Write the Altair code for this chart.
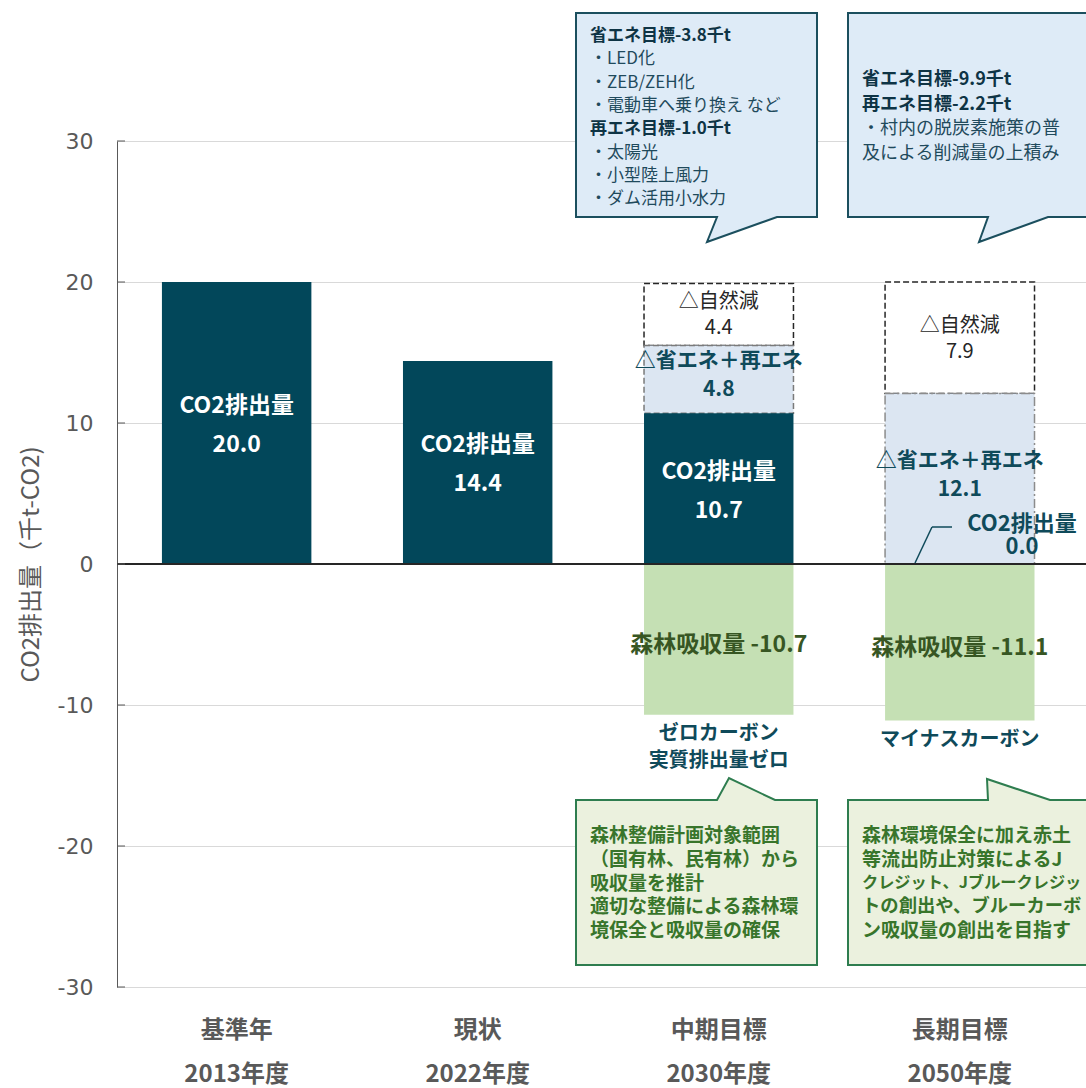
import altair as alt
import pandas as pd

# ---------------- data ----------------
categories = ["基準年|2013年度", "現状|2022年度", "中期目標|2030年度", "長期目標|2050年度"]
co2 = [20.0, 14.4, 10.7, 0.0]
saving = [None, None, 4.8, 12.1]
natural = [None, None, 4.4, 7.9]
forest = [None, None, -10.7, -11.1]
status = [None, None, "ゼロカーボン\n実質排出量ゼロ", "マイナスカーボン"]
y_ticks = [-30, -20, -10, 0, 10, 20, 30]

# callout texts: (text, bold)
note_mid = [("省エネ目標-3.8千t", True), ("・LED化", False), ("・ZEB/ZEH化", False),
            ("・電動車へ乗り換え など", False), ("再エネ目標-1.0千t", True), ("・太陽光", False),
            ("・小型陸上風力", False), ("・ダム活用小水力", False)]
note_long = [("省エネ目標-9.9千t", True), ("再エネ目標-2.2千t", True),
             ("・村内の脱炭素施策の普", False), ("及による削減量の上積み", False)]
forest_note_mid = ["森林整備計画対象範囲", "（国有林、民有林）から", "吸収量を推計",
                   "適切な整備による森林環", "境保全と吸収量の確保"]
forest_note_long = ["森林環境保全に加え赤土", "等流出防止対策によるJ",
                    "クレジット、Jブルークレジッ", "トの創出や、ブルーカーボ",
                    "ン吸収量の創出を目指す"]

# ---------------- tables ----------------
r_co2, r_sav, r_nat, r_for, r_st = [], [], [], [], []
for c, v, s, n, f, st in zip(categories, co2, saving, natural, forest, status):
    if v > 0:
        r_co2.append(dict(cat=c, lo=0.0, hi=v, mid=v / 2, label=f"CO2排出量\n{v:.1f}"))
    if s is not None:
        r_sav.append(dict(cat=c, lo=v, hi=v + s, mid=v + s / 2, label=f"△省エネ＋再エネ\n{s:.1f}"))
        if n is not None:
            r_nat.append(dict(cat=c, lo=v + s, hi=v + s + n, mid=v + s + n / 2,
                              label=f"△自然減\n{n:.1f}"))
    if f is not None:
        r_for.append(dict(cat=c, lo=0.0, hi=f, mid=f / 2, label=f"森林吸収量 {f:.1f}"))
    if st:
        r_st.append(dict(cat=c, y=f, label=st))

df_co2, df_sav, df_nat = pd.DataFrame(r_co2), pd.DataFrame(r_sav), pd.DataFrame(r_nat)
df_for, df_st = pd.DataFrame(r_for), pd.DataFrame(r_st)

# ---------------- layout ----------------
FONT = "Noto Sans CJK JP"
LEFT, TOP, W, H = 117, 141, 969, 846
TEAL = "#02475a"
TXT_TEAL = "#0f4a5a"
GREEN_TXT = "#38752b"


def P(x, y):
    return x - LEFT, y - TOP


x_scale = alt.Scale(domain=categories, paddingInner=0.38, paddingOuter=0.2, align=0.466)
x_axis = alt.Axis(title=None, labelExpr="split(datum.label, '|')", labelFont=FONT,
                  labelFontSize=24, labelFontWeight="bold", labelColor="#595959",
                  labelLineHeight=44, labelPadding=31, labelAngle=0, ticks=False,
                  domain=False, grid=False, labelLimit=400)
y_scale = alt.Scale(domain=[-30, 30], nice=False, zero=False)
y_axis = alt.Axis(values=y_ticks, title="CO2排出量（千t-CO2)", labelExpr="'' + datum.value",
                  labelFont="DejaVu Sans", labelFontSize=22, labelColor="#595959",
                  labelPadding=24, ticks=False, domainColor="#595959", domainWidth=1,
                  grid=True, gridColor="#d9d9d9", gridWidth=1,
                  titleFont=FONT, titleFontSize=24, titleFontWeight="normal",
                  titleColor="#595959", titlePadding=14)


def X():
    return alt.X("cat:N", scale=x_scale, axis=x_axis, sort=categories)


def Y(f):
    return alt.Y(f"{f}:Q", scale=y_scale, axis=y_axis)


one = pd.DataFrame({"k": [0]})

nat_bar = alt.Chart(df_nat).mark_bar(fill="white", stroke="#262626", strokeDash=[6, 3],
                                     strokeWidth=1.5).encode(x=X(), y=Y("lo"), y2="hi")
sav_bar = alt.Chart(df_sav).mark_bar(fill="#dce6f2", strokeWidth=1.5).encode(
    x=X(), y=Y("lo"), y2="hi",
    stroke=alt.Stroke("cat:N", scale=alt.Scale(domain=categories[2:], range=["#7a7a7a", "#8c8c8c"]),
                      legend=None),
    strokeDash=alt.StrokeDash("cat:N", scale=alt.Scale(domain=categories[2:],
                                                       range=[[6, 3], [9, 3, 2, 3]]), legend=None))
co2_bar = alt.Chart(df_co2).mark_bar(color=TEAL).encode(x=X(), y=Y("lo"), y2="hi")
for_bar = alt.Chart(df_for).mark_bar(color="#c5e0b4").encode(x=X(), y=Y("lo"), y2="hi")

zero = alt.Chart(pd.DataFrame({"v": [0]})).mark_rule(color="#262626", strokeWidth=2).encode(y=Y("v"))
ticks = alt.Chart(pd.DataFrame({"t": y_ticks})).mark_rule(color="#595959").encode(
    y=Y("t"), x=alt.value(0), x2=alt.value(8))

co2_txt = alt.Chart(df_co2).mark_text(font=FONT, fontSize=23, fontWeight="bold", color="white",
                                      lineBreak="\n", lineHeight=39, baseline="middle", dy=-17).encode(
    x=X(), y=Y("mid"), text="label:N")
sav_txt = alt.Chart(df_sav).mark_text(font=FONT, fontSize=21, fontWeight="bold", color=TXT_TEAL,
                                      lineBreak="\n", lineHeight=29, baseline="middle", dy=-18).encode(
    x=X(), y=Y("mid"), text="label:N")
nat_txt = alt.Chart(df_nat).mark_text(font=FONT, fontSize=20, color="#262626",
                                      lineBreak="\n", lineHeight=26, baseline="middle", dy=-12).encode(
    x=X(), y=Y("mid"), text="label:N")
for_txt = alt.Chart(df_for).mark_text(font=FONT, fontSize=23, fontWeight="bold", color="#375623",
                                      baseline="middle", dy=6).encode(
    x=X(), y=Y("mid"), text="label:N")
st_txt = alt.Chart(df_st).mark_text(font=FONT, fontSize=20, fontWeight="bold", color=TXT_TEAL,
                                    lineBreak="\n", lineHeight=27, baseline="top", dy=9).encode(
    x=X(), y=Y("y"), text="label:N")

# CO2 = 0.0 label with leader line (long-term target)
zx, zy = P(1022, 514)
zero_lbl = alt.Chart(pd.DataFrame({"label": [f"CO2排出量\n{co2[3]:.1f}"]})).mark_text(
    font=FONT, fontSize=22, fontWeight="bold", color=TXT_TEAL, lineBreak="\n", lineHeight=23,
    baseline="top").encode(text="label:N", x=alt.value(zx), y=alt.value(zy))
a, b, c = P(915, 563), P(932, 527), P(952, 527)
lead1 = alt.Chart(one).mark_rule(color=TXT_TEAL, strokeWidth=1.5).encode(
    x=alt.value(a[0]), y=alt.value(a[1]), x2=alt.value(b[0]), y2=alt.value(b[1]))
lead2 = alt.Chart(one).mark_rule(color=TXT_TEAL, strokeWidth=1.5).encode(
    x=alt.value(b[0]), y=alt.value(b[1]), x2=alt.value(c[0]), y2=alt.value(c[1]))


def path(pts):
    q = [P(x, y) for x, y in pts]
    return "M" + " L".join(f"{x},{y}" for x, y in q) + " Z"


def callout(pts, fill, stroke):
    return alt.Chart(one).mark_point(shape=path(pts), size=4, filled=True, fill=fill, stroke=stroke,
                                     strokeWidth=2, opacity=1, fillOpacity=1, strokeOpacity=1).encode(
        x=alt.value(0), y=alt.value(0))


BLUE_FILL, BLUE_LINE = "#deebf7", "#1b4f5e"
GREEN_FILL, GREEN_LINE = "#ebf1de", "#2e7d4f"
c1 = callout([(576, 13), (817, 13), (817, 217), (777, 217), (707, 242), (717, 217), (576, 217)],
             BLUE_FILL, BLUE_LINE)
c2 = callout([(848, 13), (1100, 13), (1100, 217), (1048, 217), (979, 242), (988, 217), (848, 217)],
             BLUE_FILL, BLUE_LINE)
c3 = callout([(576, 800), (717, 800), (729, 778), (775, 800), (817, 800), (817, 965), (576, 965)],
             GREEN_FILL, GREEN_LINE)
c4 = callout([(848, 800), (988, 800), (987, 779), (1050, 800), (1100, 800), (1100, 965), (848, 965)],
             GREEN_FILL, GREEN_LINE)


def est_em(t):
    return sum(1.0 if ord(ch) > 255 else 0.58 for ch in t)


def note_lines(lines, xy0, size, lh, color_bold, color_norm, max_w=None):
    layers = []
    for i, (t, bold) in enumerate(lines):
        x, y = P(xy0[0], xy0[1] + i * lh)
        fs = size if max_w is None else min(size, max_w / est_em(t))
        layers.append(alt.Chart(pd.DataFrame({"t": [t]})).mark_text(
            font=FONT, fontSize=fs, fontWeight="bold" if bold else "normal",
            color=color_bold if bold else color_norm, align="left", baseline="top").encode(
            text="t:N", x=alt.value(x), y=alt.value(y)))
    return layers


notes = []
notes += note_lines(note_mid, (590, 28), 17, 23.3, "#0e3445", "#1f4a5c")
notes += note_lines(note_long, (862, 71), 18, 24.7, "#0e3445", "#1f4a5c")
notes += note_lines([(t, True) for t in forest_note_mid], (590, 827), 19, 23.75, GREEN_TXT, GREEN_TXT)
notes += note_lines([(t, True) for t in forest_note_long], (862, 827), 19, 23.75, GREEN_TXT, GREEN_TXT,
                    max_w=220)

chart = alt.layer(
    nat_bar, sav_bar, co2_bar, for_bar, zero, ticks,
    co2_txt, sav_txt, nat_txt, for_txt, st_txt,
    lead1, lead2, zero_lbl,
    c1, c2, c3, c4, *notes,
).properties(
    width=W, height=H,
    autosize=alt.AutoSizeParams(type="none"),
    padding={"left": LEFT, "top": TOP, "right": 0, "bottom": 1088 - TOP - H},
    background="white",
).configure_view(strokeWidth=0)

chart.save("out.html", embed_options={"renderer": "svg", "actions": False})
